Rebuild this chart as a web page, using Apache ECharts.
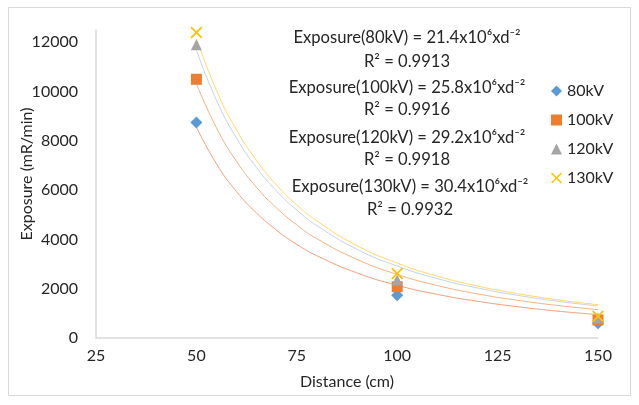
<!DOCTYPE html>
<html>
<head>
<meta charset="utf-8">
<script src="https://cdn.jsdelivr.net/npm/echarts@6/dist/echarts.min.js"></script>
<style>
html,body{margin:0;padding:0;background:#fff;}
#chart{width:639px;height:405px;}
</style>
</head>
<body>
<div id="chart"></div>
<script>
// Measured data points (distance cm -> exposure mR/min)
const distances = [50, 100, 150];
const series80 = [8750, 1730, 600];
const series100 = [10500, 2080, 730];
const series120 = [11900, 2350, 810];
const series130 = [12400, 2620, 880];

// Trendline curves
const trendX = [50, 55, 60, 65, 70, 75, 80, 90, 100, 110, 120, 130, 140, 150];
const trend80 = [8560, 7070, 5940, 5070, 4370, 3800, 3340, 2640, 2140, 1770, 1490, 1270, 1090, 950];
const trend100 = [10320, 8530, 7170, 6110, 5270, 4590, 4030, 3190, 2580, 2130, 1790, 1530, 1320, 1150];
const trend120 = [11680, 9650, 8110, 6910, 5960, 5190, 4560, 3600, 2920, 2410, 2030, 1730, 1490, 1300];
const trend130 = [12160, 10050, 8440, 7200, 6200, 5400, 4750, 3750, 3040, 2510, 2110, 1800, 1550, 1350];

const seriesNames = ['80kV', '100kV', '120kV', '130kV'];
const equations = [
  ['Exposure(80kV) = 21.4x10⁶xd⁻²', 'R² = 0.9913'],
  ['Exposure(100kV) = 25.8x10⁶xd⁻²', 'R² = 0.9916'],
  ['Exposure(120kV) = 29.2x10⁶xd⁻²', 'R² = 0.9918'],
  ['Exposure(130kV) = 30.4x10⁶xd⁻²', 'R² = 0.9932']
];
const xTicks = {min: 25, max: 150, interval: 25};
const yTicks = {min: 0, max: 12500, interval: 2000};

const FONT = 'Lato, "Open Sans", sans-serif';
const TXT = '#262626';
const X_PATH = 'path://M1,0L5,4L9,0L10,1L6,5L10,9L9,10L5,6L1,10L0,9L4,5L0,1Z';

function pairs(xs, ys) { return xs.map((x, i) => [x, ys[i]]); }

const markers = [
  {name: seriesNames[0], data: series80, symbol: 'diamond', size: 12, color: '#5B9BD5'},
  {name: seriesNames[1], data: series100, symbol: 'rect', size: 11, color: '#ED7D31'},
  {name: seriesNames[2], data: series120, symbol: 'triangle', size: 11, color: '#A5A5A5'},
  {name: seriesNames[3], data: series130, symbol: X_PATH, size: 12, color: '#FFC000'}
];
const trends = [
  {data: trend80, color: '#F2A07A'},
  {data: trend100, color: '#F4B183'},
  {data: trend120, color: '#C5D3E8'},
  {data: trend130, color: '#FFD966'}
];

const series = [];
trends.forEach((t, i) => {
  series.push({
    name: 'trend' + i, type: 'line', data: pairs(trendX, t.data),
    smooth: true, showSymbol: false, silent: true, z: 1,
    lineStyle: {color: t.color, width: 1}
  });
});
markers.forEach(m => {
  series.push({
    name: m.name, type: 'scatter', data: pairs(distances, m.data),
    symbol: m.symbol, symbolSize: m.size, z: 3,
    itemStyle: {color: m.color, opacity: 1}
  });
});

const eqGraphics = [];
const eqY = [[38, 62], [88, 110], [138, 160], [187, 210]];
equations.forEach((eq, i) => {
  eq.forEach((line, j) => {
    eqGraphics.push({
      type: 'text', x: 407 + (i === 3 ? 3 : 0), y: eqY[i][j],
      style: {text: line, font: '16.6px ' + FONT, fill: TXT, align: 'center', verticalAlign: 'middle'}
    });
  });
});

const chart = echarts.init(document.getElementById('chart'), null, {renderer: 'canvas'});
chart.setOption({
  animation: false,
  backgroundColor: '#fff',
  grid: {left: 96, right: 41, top: 30, bottom: 67},
  xAxis: {
    type: 'value', min: xTicks.min, max: xTicks.max, interval: xTicks.interval,
    axisLine: {show: true, lineStyle: {color: '#D9D9D9', width: 1.5}},
    axisTick: {show: false},
    splitLine: {show: false},
    axisLabel: {color: TXT, fontFamily: FONT, fontSize: 16, margin: 10}
  },
  yAxis: {
    type: 'value', min: yTicks.min, max: yTicks.max, interval: yTicks.interval,
    axisLine: {show: true, lineStyle: {color: '#D9D9D9', width: 1.5}},
    axisTick: {show: false},
    splitLine: {show: false},
    axisLabel: {color: TXT, fontFamily: FONT, fontSize: 16, margin: 18,
      formatter: v => (v % yTicks.interval === 0 ? String(v) : '')}
  },
  legend: {
    data: seriesNames.map((n, i) => ({name: n, icon: i === 3 ? X_PATH : markers[i].symbol, itemStyle: {opacity: 1}})),
    orient: 'vertical', left: 551, top: 82, padding: 0,
    itemWidth: 11, itemHeight: 11, itemGap: 11,
    textStyle: {color: TXT, fontFamily: FONT, fontSize: 16, lineHeight: 18}
  },
  graphic: [
    {type: 'rect', shape: {x: 8.5, y: 7.5, width: 622, height: 388},
      style: {fill: null, stroke: '#D9D9D9', lineWidth: 1}, z: -1},
    {type: 'text', x: 27, y: 174, rotation: Math.PI / 2,
      style: {text: 'Exposure (mR/min)', font: '16px ' + FONT, fill: TXT, align: 'center', verticalAlign: 'middle'}},
    {type: 'text', x: 347, y: 382,
      style: {text: 'Distance (cm)', font: '16px ' + FONT, fill: TXT, align: 'center', verticalAlign: 'middle'}}
  ].concat(eqGraphics),
  series: series
});
</script>
</body>
</html>
